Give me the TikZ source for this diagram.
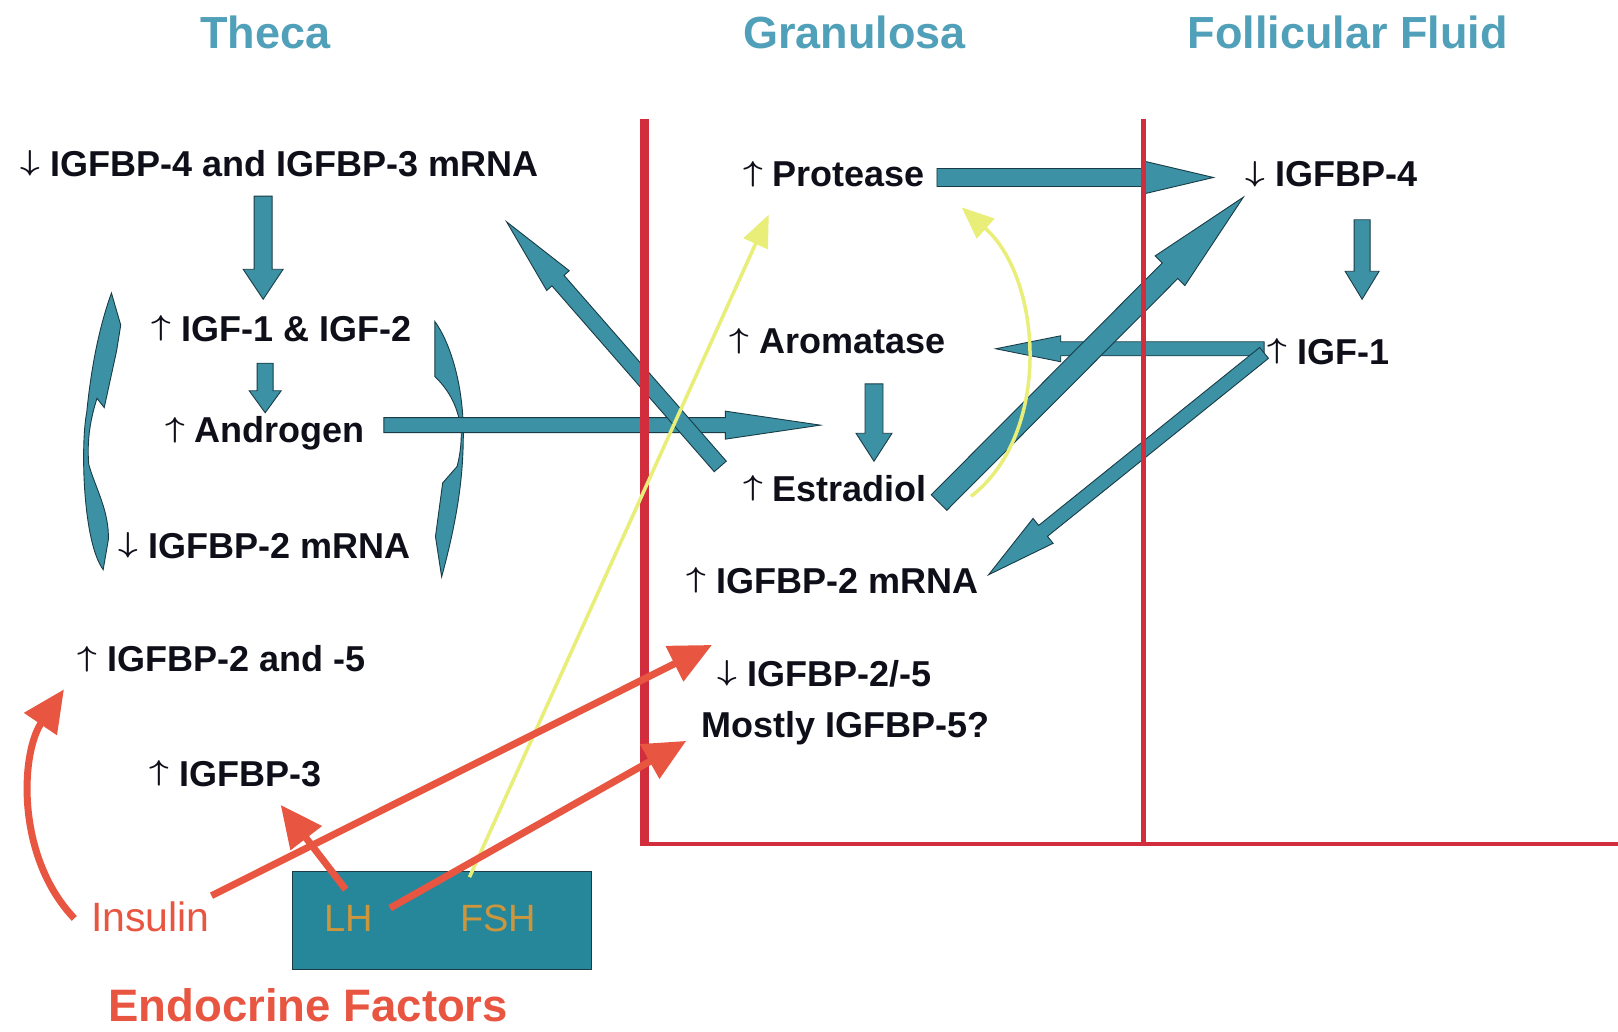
\RequirePackage{fix-cm}
\documentclass[tikz,border=0pt]{standalone}
\usepackage{fontspec}
\setmainfont{Liberation Sans}
\usetikzlibrary{calc,arrows.meta}
\definecolor{teal1}{RGB}{60,145,165}
\definecolor{tealbox}{RGB}{38,135,155}
\definecolor{tealdk}{RGB}{25,60,70}
\definecolor{redline}{RGB}{210,45,60}
\definecolor{salmon}{RGB}{232,85,65}
\definecolor{yel}{RGB}{232,238,120}
\definecolor{ttl}{RGB}{80,160,185}
\definecolor{lhc}{RGB}{205,150,60}
\definecolor{ink}{RGB}{15,15,25}
\newcommand\uA{\raisebox{0.155em}{\scalebox{0.95}[0.8]{\boldmath$\uparrow$}}}
\newcommand\dA{\raisebox{0.155em}{\scalebox{0.95}[0.8]{\boldmath$\downarrow$}}}
\newcommand\blockarr[6][]{%
  \coordinate (bac) at ($(#3)!#6!(#2)$);
  \filldraw[tarrow,#1] ($(#2)!#4!90:(#3)$) -- ($(bac)!#4!-90:(#2)$) -- ($(bac)!#5!-90:(#2)$) -- (#3) -- ($(bac)!#5!90:(#2)$) -- ($(bac)!#4!90:(#2)$) -- ($(#2)!#4!-90:(#3)$) -- cycle;
}
\tikzset{
  lbl/.style={font=\fontsize{36}{40}\selectfont\bfseries, inner sep=0pt, anchor=base west, text=ink},
  ttlstyle/.style={font=\fontsize{45}{50}\selectfont\bfseries, inner sep=0pt, anchor=base, text=ttl},
  tarrow/.style={fill=teal1, draw=tealdk, line width=0.9pt, line join=miter},
  rarrow/.style={draw=salmon, line width=7pt, -{Triangle[length=42pt,width=38pt]}},
  yarrow/.style={draw=yel, line width=3.5pt, -{Triangle[length=32pt,width=26pt]}},
  membrane/.style={draw=redline},
}
\begin{document}
\begin{tikzpicture}[x=1.0319pt,y=-1.0319pt]
\fill[white] (0,0) rectangle (1568,1000);
\useasboundingbox (0,0) rectangle (1568,1000);

% titles
\node[ttlstyle] (tTheca) at (257,47) {Theca};
\node[ttlstyle] (tGran) at (828,47) {Granulosa};
\node[ttlstyle] (tFF) at (1306,47) {Follicular Fluid};

% theca labels
\node[lbl] (n1) at (20,171) {\dA\ IGFBP-4 and IGFBP-3 mRNA};
\node[lbl] (n2) at (147,331) {\uA\ IGF-1 \& IGF-2};
\node[lbl] (n3) at (160,429) {\uA\ Androgen};
\node[lbl] (n4) at (115,541) {\dA\ IGFBP-2 mRNA};
\node[lbl] (n5) at (75,651) {\uA\ IGFBP-2 and -5};
\node[lbl] (n6) at (145,762) {\uA\ IGFBP-3};

% granulosa labels
\node[lbl] (prot) at (720,181) {\uA\ Protease};
\node[lbl] (arom) at (707,343) {\uA\ Aromatase};
\node[lbl] (estr) at (720,486) {\uA\ Estradiol};
\node[lbl] (g2m) at (665,575) {\uA\ IGFBP-2 mRNA};
\node[lbl] (g25) at (695,665) {\dA\ IGFBP-2/-5};
\node[lbl] (most) at (680,715) {Mostly IGFBP-5?};

% follicular fluid labels
\node[lbl] (f4) at (1207,181) {\dA\ IGFBP-4};
\node[lbl] (figf) at (1228,353) {\uA\ IGF-1};

% endocrine
\node[draw=tealdk, fill=tealbox, line width=1pt, minimum width=299pt, minimum height=98pt, inner sep=0pt] (ebox) at (428,892.5) {};
\node[font=\fontsize{38}{40}\selectfont, text=lhc, anchor=base, inner sep=0pt] (lh) at (338,903) {LH};
\node[font=\fontsize{38}{40}\selectfont, text=lhc, anchor=base, inner sep=0pt] (fsh) at (483,903) {FSH};
\node[font=\fontsize{41}{44}\selectfont, text=salmon, anchor=base west, inner sep=0pt] (ins) at (88,903) {Insulin};
\node[font=\fontsize{45.5}{48}\selectfont\bfseries, text=salmon, anchor=base west, inner sep=0pt] (endo) at (105,990) {Endocrine Factors};

% coordinates for block arrows
\coordinate (a1s) at (255,190); \coordinate (a1e) at (255,290);
\coordinate (a2s) at (257,352); \coordinate (a2e) at (257,400);
\coordinate (a3s) at (372,412); \coordinate (a3e) at (795,412);
\coordinate (a4s) at (698,452); \coordinate (a4e) at (491,215);
\coordinate (a5s) at (908,172); \coordinate (a5e) at (1176,172);
\coordinate (a6s) at (1320,213); \coordinate (a6e) at (1320,290);
\coordinate (a7s) at (1225,338); \coordinate (a7e) at (965,338);
\coordinate (a8s) at (1225,342); \coordinate (a8e) at (958,557);
\coordinate (a9s) at (847,372); \coordinate (a9e) at (847,447);
\coordinate (a10s) at (910,487); \coordinate (a10e) at (1205,191);

% curved bracket arrows
\filldraw[tarrow] (100,552) .. controls (80,525) and (78,430) .. (84,400)
  .. controls (88,360) and (95,320) .. (108,284) -- (117,315) -- (113,340) -- (101,395) -- (94,386)
  .. controls (88,405) and (84,425) .. (86,450) .. controls (92,472) and (106,495) .. (105,523) -- cycle;
\filldraw[tarrow] (421.5,311.7) .. controls (435,330) and (449,370) .. (449,420)
  .. controls (449,460) and (444,500) .. (428,559) -- (422,520) -- (429,468) -- (443,452)
  .. controls (446,440) and (447,430) .. (447,420) .. controls (445,395) and (435,378) .. (421.5,365) -- cycle;

% block arrows
\blockarr{a1s}{a1e}{9pt}{20pt}{30pt}
\blockarr{a2s}{a2e}{8pt}{16pt}{22pt}
\blockarr{a3s}{a3e}{7.5pt}{14pt}{95pt}
\blockarr{a4s}{a4e}{8pt}{15pt}{78pt}
\blockarr{a5s}{a5e}{9pt}{16pt}{68pt}
\blockarr{a6s}{a6e}{8pt}{17pt}{28pt}
\blockarr{a7s}{a7e}{7pt}{13pt}{65pt}
\blockarr{a8s}{a8e}{7pt}{16pt}{70pt}
\blockarr{a9s}{a9e}{9pt}{18pt}{28pt}
\blockarr{a10s}{a10e}{11pt}{21pt}{104pt}

% membranes
\draw[membrane, line width=9pt] (625,115) -- (625,820);
\draw[membrane, line width=4.5pt] (621,818) -- (1568,818);
\draw[membrane, line width=4.5pt] (1108,115) -- (1108,818);

% yellow arrows
\coordinate (y1s) at (455,850); \coordinate (y1e) at (745,208);
\coordinate (y2s) at (941,481); \coordinate (y2e) at (932,201);
\draw[yarrow] (y1s) -- (y1e);
\draw[yarrow] (y2s) .. controls (1020,420) and (1010,270) .. (y2e);

% red arrows
\coordinate (r1s) at (72,890); \coordinate (r1e) at (62,668);
\coordinate (r2s) at (205,868); \coordinate (r2e) at (690,625);
\coordinate (r3s) at (335,862); \coordinate (r3e) at (272,780);
\coordinate (r4s) at (378,880); \coordinate (r4e) at (665,718);
\draw[rarrow] (r1s) .. controls (15,830) and (20,730) .. (r1e);
\draw[rarrow] (r2s) -- (r2e);
\draw[rarrow] (r3s) -- (r3e);
\draw[rarrow] (r4s) -- (r4e);
\end{tikzpicture}
\end{document}
